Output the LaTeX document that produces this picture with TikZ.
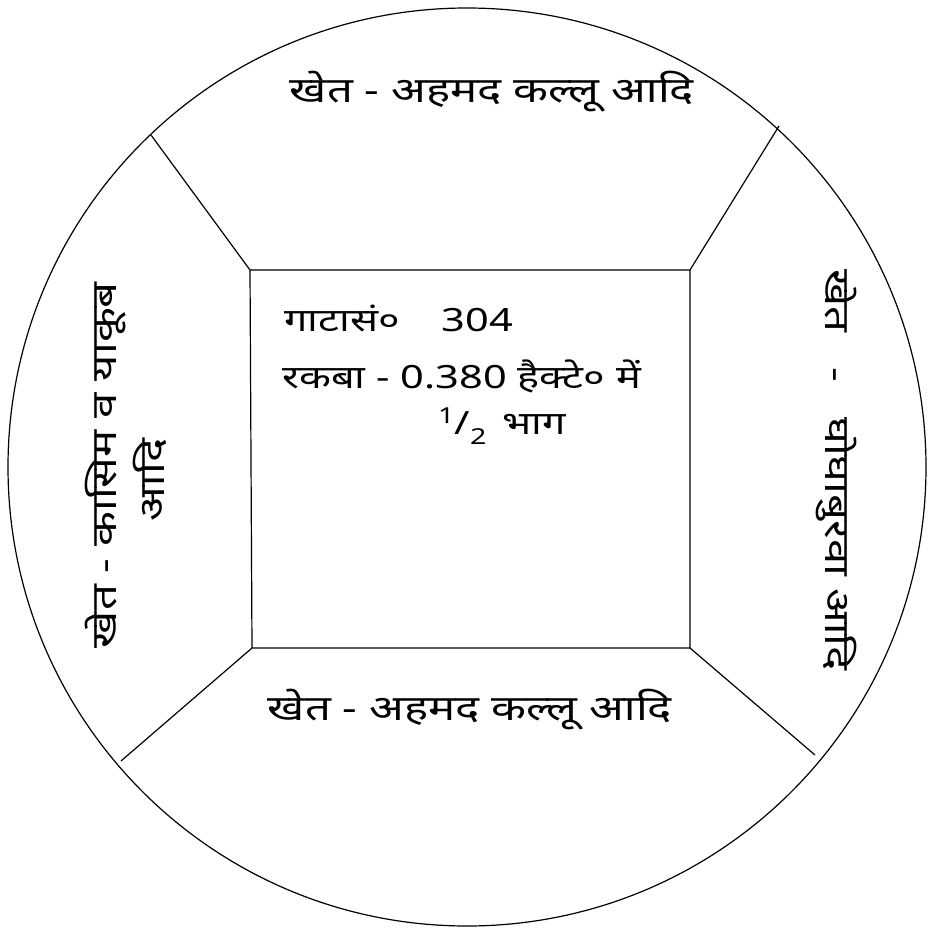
\documentclass[tikz,border=0pt]{standalone}
\usepackage{fontspec}
\newfontfamily\hindi[Script=Devanagari,FakeStretch=1.3]{Noto Sans}
\tikzset{
  edge/.style={draw=black, line width=1.2pt},
  lbl/.style={font=\hindi\fontsize{35}{40}\selectfont, inner sep=0pt},
  inlbl/.style={font=\hindi\fontsize{32}{36}\selectfont, inner sep=0pt, anchor=west},
}
\begin{document}
\begin{tikzpicture}[x=1pt,y=-1pt]
\useasboundingbox (0,0) rectangle (931,931);
\coordinate (c) at (467,467);
\draw[edge] (c) circle [radius=459];
% plot
\coordinate (tl) at (250,270);
\coordinate (tr) at (690,270);
\coordinate (br) at (690,648);
\coordinate (bl) at (252,648);
\draw[edge] (tl) -- (tr) -- (br) -- (bl) -- cycle;
% boundary lines to circle
\coordinate (otl) at (151,135);
\coordinate (otr) at (779,126);
\coordinate (obl) at (121,761);
\coordinate (obr) at (815,755);
\draw[edge] (tl) -- (otl);
\draw[edge] (tr) -- (otr);
\draw[edge] (bl) -- (obl);
\draw[edge] (br) -- (obr);
% neighbouring fields
\node[lbl] (top) at (492,92) {खेत - अहमद कल्लू आदि};
\node[lbl] (bottom) at (470,710) {खेत - अहमद कल्लू आदि};
\node[lbl, rotate=-90] (right) at (836,470) {खेत\quad -\quad घोघाबुरवा आदि};
\node[lbl, rotate=90] (left1) at (106,465) {खेत - कासिम व याकूब};
\node[lbl, rotate=90] (left2) at (150,480) {आदि};
% plot details
\node[inlbl] (gata) at (284,318) {गाटासं०\hspace{42pt}304};
\node[inlbl] (rakba) at (282,376) {रकबा - 0.380 हैक्टे० में};
\node[inlbl] (bhag) at (438,426) {\raisebox{.35em}{\fontsize{22}{24}\selectfont 1}/\raisebox{-.3em}{\fontsize{22}{24}\selectfont 2}\enspace भाग};
\end{tikzpicture}
\end{document}
